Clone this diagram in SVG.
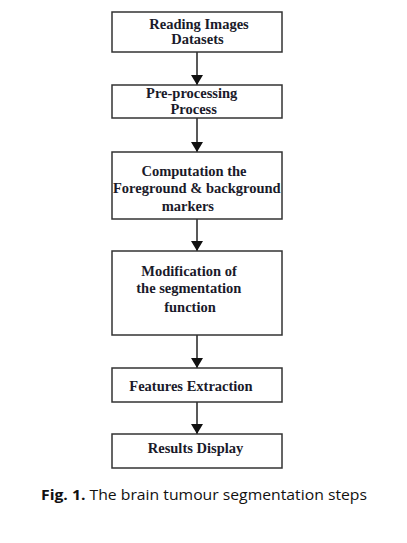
<svg xmlns="http://www.w3.org/2000/svg" width="407" height="543" viewBox="0 0 407 543">
<style>
.box{fill:#fff;stroke:#333;stroke-width:1.5}
.t{font-family:"Liberation Serif","Times New Roman",serif;font-weight:bold;font-size:14.5px;fill:#1a1a2a;text-anchor:middle}
.c{stroke:#222;stroke-width:1.5;fill:none}
.cap{font-family:"Open Sans","Liberation Sans",sans-serif;font-size:14.5px;fill:#111}
</style>
<defs>
<marker id="ah" markerUnits="userSpaceOnUse" markerWidth="12" markerHeight="13" refX="10" refY="6" orient="auto">
<path d="M0,0 L10,6 L0,12 Z" fill="#111"/>
</marker>
</defs>
<rect width="407" height="543" fill="#fff"/>
<g id="connectors">
<line class="c" x1="197" y1="52" x2="197" y2="85" marker-end="url(#ah)"/>
<line class="c" x1="197" y1="118" x2="197" y2="152" marker-end="url(#ah)"/>
<line class="c" x1="197" y1="219" x2="197" y2="251" marker-end="url(#ah)"/>
<line class="c" x1="197" y1="335" x2="197" y2="368" marker-end="url(#ah)"/>
<line class="c" x1="197" y1="402" x2="197" y2="434" marker-end="url(#ah)"/>
</g>
<g id="n1">
<rect class="box" x="112" y="12" width="170" height="40"/>
<text class="t" x="199" y="29">Reading Images</text>
<text class="t" x="197.5" y="44">Datasets</text>
</g>
<g id="n2">
<rect class="box" x="112" y="85" width="170" height="33"/>
<text class="t" x="191.7" y="98">Pre-processing</text>
<text class="t" x="193.7" y="114">Process</text>
</g>
<g id="n3">
<rect class="box" x="112" y="152" width="170" height="67"/>
<text class="t" x="194" y="176">Computation the</text>
<text class="t" x="196.8" y="193">Foreground &amp; background</text>
<text class="t" x="187.8" y="210.5">markers</text>
</g>
<g id="n4">
<rect class="box" x="112" y="251" width="170" height="84"/>
<text class="t" x="189" y="276">Modification of</text>
<text class="t" x="188.8" y="292.5">the segmentation</text>
<text class="t" x="190" y="311.5">function</text>
</g>
<g id="n5">
<rect class="box" x="112" y="368" width="170" height="34"/>
<text class="t" x="191" y="391">Features Extraction</text>
</g>
<g id="n6">
<rect class="box" x="112" y="434" width="170" height="34"/>
<text class="t" x="195.5" y="453">Results Display</text>
</g>
<text class="cap" x="41" y="500" textLength="326" lengthAdjust="spacingAndGlyphs"><tspan font-weight="bold">Fig. 1.</tspan> The brain tumour segmentation steps</text>
</svg>
